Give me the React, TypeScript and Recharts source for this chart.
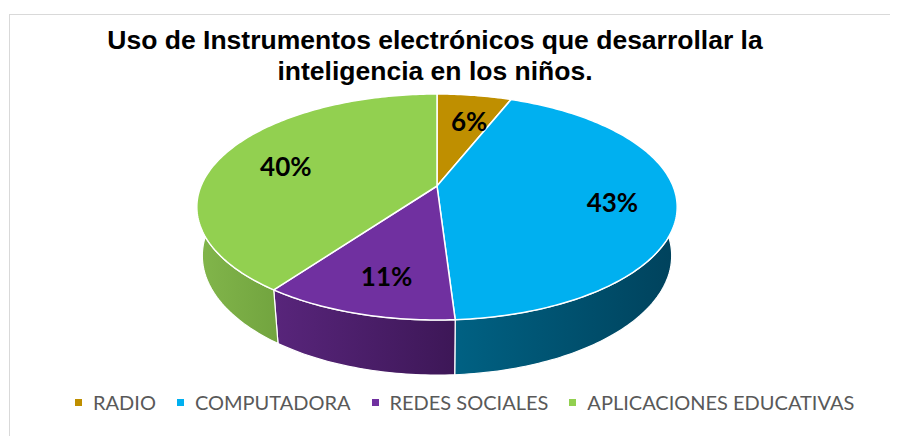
import React from 'react';
import { PieChart, Pie, Cell, Legend } from 'recharts';

const categories = ['RADIO', 'COMPUTADORA', 'REDES SOCIALES', 'APLICACIONES EDUCATIVAS'];
const values = [6, 43, 11, 40];
const topColors = ['#BF8F00', '#00B0F0', '#7030A0', '#92D050'];
const sideColors = [
  ['#8f6b00', '#785a00'],
  ['#006183', '#00425c'],
  ['#58257b', '#3d1757'],
  ['#82b64b', '#72a43f'],
];

const data = categories.map((name, i) => ({ name, value: values[i] }));

// tilted disc seen in perspective (Excel 3-D pie look)
const DIST = 4.773;
const SIN_E = 0.4623;
const COS_E = 0.887;
const THICK = 0.2347;

function project(cx: number, cy: number, r: number, angle: number, k: number, down: boolean) {
  const rad = (angle * Math.PI) / 180;
  const u = k * Math.cos(rad);
  const w = k * Math.sin(rad);
  const z = down ? -THICK : 0;
  const depth = DIST + w * COS_E - z * SIN_E;
  return [cx + (r * DIST * u) / depth, cy - (r * DIST * (w * SIN_E + z * COS_E)) / depth];
}

function arc(cx: number, cy: number, r: number, a1: number, a2: number, down: boolean) {
  const n = Math.max(2, Math.ceil(Math.abs(a2 - a1)) + 1);
  const pts: number[][] = [];
  for (let i = 0; i < n; i++) {
    pts.push(project(cx, cy, r, a1 + ((a2 - a1) * i) / (n - 1), 1, down));
  }
  return pts;
}

const toPath = (pts: number[][]) =>
  pts.map((p, i) => `${i ? 'L' : 'M'}${p[0].toFixed(2)},${p[1].toFixed(2)}`).join(' ') + ' Z';

// parts of [lo, hi] that face the viewer (lower half of the disc)
function frontParts(lo: number, hi: number) {
  const out: number[][] = [];
  [[-540, -360], [-180, 0], [180, 360]].forEach(([a, b]) => {
    const s = Math.max(lo, a);
    const e = Math.min(hi, b);
    if (e > s) out.push([s, e]);
  });
  return out;
}

function Slice3D(props: any) {
  const { cx, cy, outerRadius, startAngle, endAngle, fill, name } = props;
  const idx = categories.indexOf(name);
  const lo = Math.min(startAngle, endAngle);
  const hi = Math.max(startAngle, endAngle);
  const gid = `side-${idx}`;
  const walls = frontParts(lo, hi).map(([a, b], j) => {
    const top = arc(cx, cy, outerRadius, a, b, false);
    const bottom = arc(cx, cy, outerRadius, a, b, true).reverse();
    return <path key={j} d={toPath([...top, ...bottom])} fill={`url(#${gid})`} stroke="#fff" strokeWidth={1.2} />;
  });
  const face = [[cx, cy], ...arc(cx, cy, outerRadius, startAngle, endAngle, false)];
  return (
    <g>
      <defs>
        <linearGradient id={gid} x1="0" y1="0" x2="1" y2="0">
          <stop offset="0%" stopColor={sideColors[idx][0]} />
          <stop offset="100%" stopColor={sideColors[idx][1]} />
        </linearGradient>
      </defs>
      {walls}
      <path d={toPath(face)} fill={fill} stroke="#fff" strokeWidth={1.5} strokeLinejoin="round" />
    </g>
  );
}

function renderLabel(props: any) {
  const { cx, cy, outerRadius, midAngle, percent } = props;
  const [x, y] = project(cx, cy, outerRadius, midAngle, 0.72, false);
  return (
    <text x={x + 4} y={y + 3} textAnchor="middle" dominantBaseline="central" fill="#000"
      style={{ fontFamily: 'Lato', fontWeight: 700, fontSize: 26 }}>
      {`${Math.round(percent * 100)}%`}
    </text>
  );
}

function renderLegend() {
  return (
    <div style={{ display: 'flex', alignItems: 'center', paddingLeft: 75, fontFamily: 'Lato', fontSize: 20, color: '#595959', whiteSpace: 'nowrap', width: 900 }}>
      {categories.map((c, i) => (
        <div key={c} style={{ display: 'flex', alignItems: 'center', marginRight: 21, flexShrink: 0 }}>
          <span style={{ width: 7, height: 7, background: topColors[i], marginRight: 11, display: 'inline-block' }} />
          <span>{c}</span>
        </div>
      ))}
    </div>
  );
}

export default function App() {
  return (
    <div style={{ position: 'absolute', left: 0, top: 0, width: 900, height: 436, background: '#fff' }}>
      <div style={{ position: 'absolute', left: 9, top: 14, width: 881, height: 1, background: '#d9d9d9' }} />
      <div style={{ position: 'absolute', left: 9, top: 14, width: 1, height: 422, background: '#d9d9d9' }} />
      <div style={{
        position: 'absolute', left: 0, top: 25, width: 870, textAlign: 'center',
        fontFamily: '"Liberation Sans", Arial, sans-serif', fontWeight: 700, fontSize: 26.5, lineHeight: '31px', color: '#000',
      }}>
        Uso de Instrumentos electrónicos que desarrollar la<br />inteligencia en los niños.
      </div>
      <PieChart width={900} height={436} margin={{ top: 0, right: 0, bottom: 0, left: 0 }}>
        <Pie
          data={data}
          dataKey="value"
          nameKey="name"
          cx={437}
          cy={186}
          outerRadius={236}
          startAngle={90}
          endAngle={-270}
          stroke="#fff"
          shape={Slice3D}
          label={renderLabel}
          labelLine={false}
          isAnimationActive={false}
        >
          {data.map((d, i) => (
            <Cell key={d.name} fill={topColors[i]} />
          ))}
        </Pie>
        <Legend content={renderLegend} wrapperStyle={{ position: 'absolute', left: 0, top: 390, width: 900 }} />
      </PieChart>
    </div>
  );
}
